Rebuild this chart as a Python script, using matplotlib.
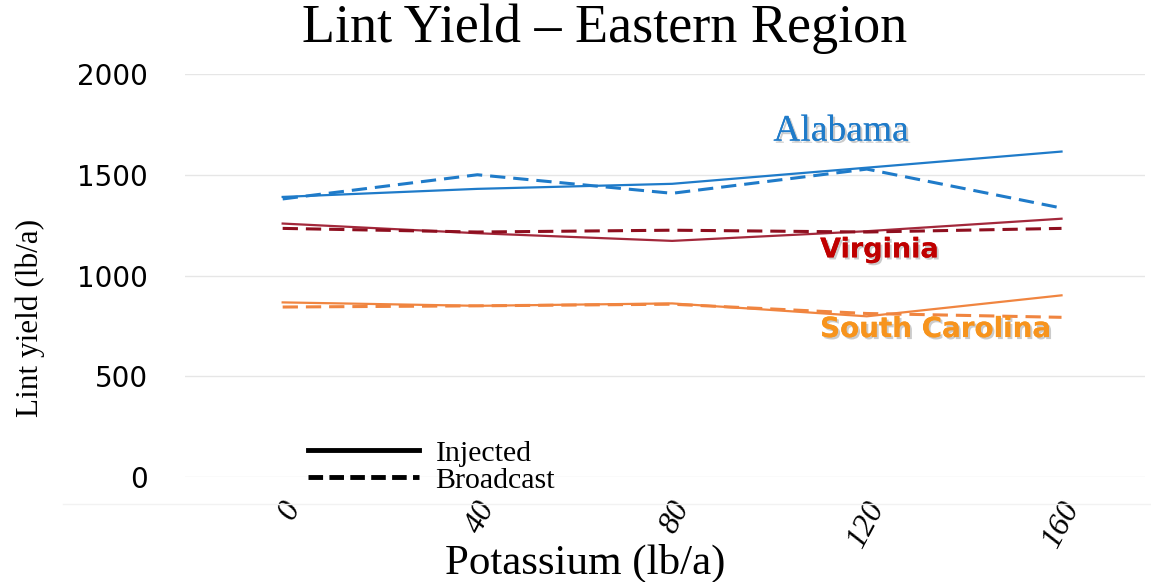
import numpy as np
import matplotlib.pyplot as plt
import matplotlib.transforms as mtransforms
import matplotlib.patheffects as pe
from matplotlib.lines import Line2D

potassium = [0, 40, 80, 120, 160]
tick_labels = ['0', '40', '80', '120', '160']

alabama_inj = [1390, 1430, 1455, 1535, 1615]
alabama_bc = [1380, 1500, 1408, 1528, 1335]
virginia_inj = [1258, 1210, 1172, 1220, 1282]
virginia_bc = [1234, 1216, 1225, 1216, 1234]
scarolina_inj = [867, 850, 862, 798, 902]
scarolina_bc = [844, 850, 858, 812, 793]

blue = '#1f7bc9'
red_solid = '#a3283b'
red_dash = '#8e0f1f'
orange = '#f08540'

serif = 'Liberation Serif'

fig = plt.figure(figsize=(11.51, 5.82), dpi=100)
ax = fig.add_axes([0.161, 0.180, 0.834, 0.693])

x = np.arange(len(potassium))
dash = (0, (5, 2.6))
ax.plot(x, alabama_inj, color=blue, lw=1.6)
ax.plot(x, alabama_bc, color=blue, lw=2.2, ls=dash)
ax.plot(x, virginia_inj, color=red_solid, lw=1.6)
ax.plot(x, virginia_bc, color=red_dash, lw=2.2, ls=dash)
ax.plot(x, scarolina_inj, color=orange, lw=1.6)
ax.plot(x, scarolina_bc, color=orange, lw=2.2, ls=dash)

ax.set_xlim(-0.5, 4.43)
ax.set_ylim(0, 2000)
ax.set_yticks([0, 500, 1000, 1500, 2000])
ax.set_yticklabels(['0', '500', '1000', '1500', '2000'],
                   fontdict={'family': 'DejaVu Sans', 'size': 20})
ax.grid(axis='y', color='#e6e6e6', lw=1)
ax.set_axisbelow(True)
for s in ax.spines.values():
    s.set_visible(False)
ax.tick_params(axis='y', length=0, pad=27)
ax.tick_params(axis='x', length=0, pad=10)

# faint chart-area border below the plot
fig.add_artist(Line2D([63 / 1151, 1.0], [1 - 504 / 582] * 2, color='#f2f2f2', lw=1))

ax.set_xticks(x)
ax.set_xticklabels(tick_labels, rotation=62, ha='right', va='center',
                   rotation_mode='anchor',
                   fontdict={'family': serif, 'size': 23, 'style': 'italic'})
shift = mtransforms.ScaledTranslation(11 / 100, -12 / 100, fig.dpi_scale_trans)
for lab in ax.get_xticklabels():
    lab.set_transform(lab.get_transform() + shift)

fig.text(585 / 1151, 1 - 563 / 582, 'Potassium (lb/a)', ha='center', va='center',
         family=serif, size=31)
fig.text(30 / 1151, 1 - 318 / 582, 'Lint yield (lb/a)', ha='center', va='center',
         rotation=90, family=serif, size=22.5)
fig.text(605 / 1151, 1 - 29 / 582, 'Lint Yield \u2013 Eastern Region', ha='center',
         va='center', family=serif, size=39)

shadow = [pe.withSimplePatchShadow(offset=(1.5, -1.5), shadow_rgbFace='#999999', alpha=0.5),
          pe.Normal()]
ax.text(2.52, 1715, 'Alabama', color=blue, family=serif, size=27, ha='left', va='center',
        path_effects=shadow)
ax.text(2.76, 1125, 'Virginia', color='#c00000', family='DejaVu Sans', size=19.5,
        ha='left', va='center', weight='bold', path_effects=shadow)
ax.text(2.76, 735, 'South Carolina', color='#f7941d', family='DejaVu Sans', size=20,
        ha='left', va='center', weight='bold', path_effects=shadow)

handles = [Line2D([], [], color='black', lw=3.5),
           Line2D([], [], color='black', lw=3.5, ls=(0, (3, 1.3)))]
ax.legend(handles, ['Injected', 'Broadcast'], loc='upper left',
          bbox_to_anchor=(0.268, 1 - 440 / 582), bbox_transform=fig.transFigure,
          frameon=False, prop={'family': serif, 'size': 21.5},
          handlelength=3.7, handletextpad=0.55, labelspacing=0.0, borderpad=0,
          borderaxespad=0)

fig.savefig('out.png', dpi=100)
